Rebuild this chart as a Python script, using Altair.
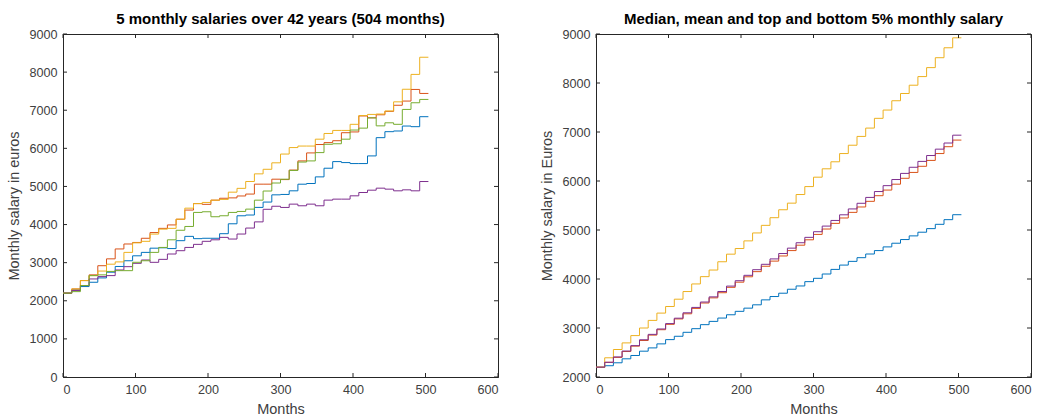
import altair as alt
import pandas as pd

# ---------------- data ----------------
months = [12 * k for k in range(42)] + [504]
x_ticks = [0, 100, 200, 300, 400, 500, 600]
left_y_ticks = [0, 1000, 2000, 3000, 4000, 5000, 6000, 7000, 8000, 9000]
right_y_ticks = [2000, 3000, 4000, 5000, 6000, 7000, 8000, 9000]

# left panel: 5 individual salaries, one value per year
left_blue = [2200, 2286, 2373, 2486, 2600, 2750, 2900, 3050, 3180, 3270, 3380, 3390, 3370, 3577,
             3690, 3630, 3640, 3640, 3760, 4020, 4230, 4250, 4450, 4590, 4780, 4790, 4885, 5059,
             5077, 5251, 5478, 5652, 5626, 5600, 5600, 5801, 6280, 6437, 6455, 6585, 6568, 6830]
left_red = [2200, 2310, 2530, 2680, 2920, 3100, 3360, 3490, 3530, 3640, 3790, 3900, 3990, 4140,
            4380, 4550, 4530, 4640, 4690, 4700, 4750, 4800, 5060, 5060, 5190, 5180, 5430, 5670,
            5880, 6100, 6150, 6200, 6410, 6430, 6850, 6800, 6880, 6970, 7130, 7240, 7545, 7440]
left_yellow = [2200, 2310, 2530, 2660, 2780, 2960, 3020, 3270, 3520, 3560, 3750, 3880, 3900, 4140,
               4430, 4550, 4580, 4640, 4660, 4850, 4950, 5130, 5330, 5450, 5620, 5850, 6020, 6060,
               6060, 6240, 6390, 6470, 6470, 6630, 6860, 6890, 6900, 6980, 7220, 7550, 7940, 8390]
left_purple = [2200, 2268, 2400, 2573, 2634, 2660, 2808, 2895, 2983, 3070, 3009, 3087, 3227, 3314,
               3400, 3480, 3560, 3600, 3664, 3620, 3751, 3908, 4070, 4400, 4480, 4449, 4536, 4493,
               4536, 4493, 4641, 4667, 4667, 4754, 4841, 4902, 4955, 4929, 4885, 4911, 4885, 5129]
left_green = [2200, 2240, 2400, 2660, 2680, 2770, 2790, 2790, 3010, 3050, 3270, 3400, 3600, 3850,
              3950, 4318, 4336, 4205, 4231, 4318, 4344, 4405, 4640, 4880, 5090, 5190, 5420, 5640,
              5670, 5888, 6106, 6120, 6240, 6480, 6530, 6800, 6590, 6670, 6630, 7021, 7196, 7283]

# right panel: bottom 5 %, mean, top 5 %, median
right_blue = [2200, 2230, 2290, 2371, 2439, 2527, 2594, 2676, 2763, 2831, 2912, 2986, 3068, 3135,
              3203, 3270, 3340, 3405, 3473, 3574, 3642, 3710, 3791, 3858, 3946, 4014, 4102, 4196,
              4284, 4360, 4435, 4510, 4580, 4655, 4730, 4805, 4880, 4955, 5028, 5116, 5211, 5312]
right_red = [2200, 2300, 2400, 2520, 2630, 2745, 2855, 2965, 3075, 3185, 3290, 3400, 3510, 3615,
             3720, 3830, 3935, 4045, 4150, 4260, 4365, 4470, 4580, 4690, 4800, 4910, 5020, 5135,
             5245, 5360, 5470, 5585, 5700, 5815, 5935, 6055, 6175, 6300, 6420, 6560, 6700, 6835]
right_yellow = [2200, 2392, 2561, 2696, 2845, 3000, 3155, 3304, 3439, 3588, 3744, 3899, 4048, 4183,
                4352, 4507, 4622, 4778, 4940, 5095, 5251, 5413, 5548, 5724, 5886, 6078, 6249, 6392,
                6560, 6730, 6910, 7080, 7279, 7448, 7638, 7786, 7955, 8131, 8314, 8516, 8719, 8922]
right_purple = [2200, 2300, 2410, 2530, 2640, 2760, 2870, 2980, 3090, 3200, 3310, 3420, 3530, 3635,
                3745, 3855, 3965, 4075, 4190, 4300, 4410, 4520, 4630, 4740, 4850, 4965, 5080, 5195,
                5310, 5430, 5545, 5665, 5785, 5905, 6030, 6155, 6280, 6400, 6520, 6650, 6775, 6935]

BLUE, RED, YELLOW, PURPLE, GREEN = "#0072BD", "#D95319", "#EDB120", "#7E2F8E", "#77AC30"
AXC = "#262626"
FONT = "Liberation Sans"
W, H = 435, 343
TL = 4


def series_df(vals):
    return pd.DataFrame({"month": months, "salary": vals + [vals[-1]]})


def panel(series, colors, ydom, yticks, title, ytitle):
    common = dict(ticks=False, grid=False, labelFont=FONT, titleFont=FONT, labelFontSize=12.6,
                  titleFontSize=14.5, titleFontWeight="normal", labelColor="#404040",
                  titleColor="#404040", domainColor=AXC, format="d")
    xax = alt.Axis(values=x_ticks, title="Months", labelPadding=6, titlePadding=7, **common)
    yax = alt.Axis(values=yticks, title=ytitle, labelPadding=6, titlePadding=7, **common)
    xs = alt.Scale(domain=[0, 600], nice=False, zero=False)
    ys = alt.Scale(domain=ydom, nice=False, zero=False)
    layers = []
    for vals, c in zip(series, colors):
        layers.append(
            alt.Chart(series_df(vals)).mark_line(interpolate="step-after", strokeWidth=1,
                                                 color=c, clip=True).encode(
                x=alt.X("month:Q", scale=xs, axis=xax),
                y=alt.Y("salary:Q", scale=ys, axis=yax),
            )
        )
    xt = pd.DataFrame({"month": x_ticks})
    yt = pd.DataFrame({"salary": yticks})
    for y0, y1 in [(0, TL), (H, H - TL)]:
        layers.append(alt.Chart(xt).mark_rule(color=AXC, strokeWidth=1).encode(
            x=alt.X("month:Q", scale=xs, axis=xax), y=alt.value(y0), y2=alt.value(y1)))
    for x0, x1 in [(0, TL), (W, W - TL)]:
        layers.append(alt.Chart(yt).mark_rule(color=AXC, strokeWidth=1).encode(
            y=alt.Y("salary:Q", scale=ys, axis=yax), x=alt.value(x0), x2=alt.value(x1)))
    return alt.layer(*layers).properties(
        width=W, height=H,
        title=alt.TitleParams(title, fontSize=15, fontWeight="bold", font=FONT,
                              color="#000000", offset=1),
    )


left = panel([left_blue, left_red, left_yellow, left_purple, left_green],
             [BLUE, RED, YELLOW, PURPLE, GREEN], [0, 9000], left_y_ticks,
             "5 monthly salaries over 42 years (504 months)", "Monthly salary in euros")
right = panel([right_blue, right_red, right_yellow, right_purple],
              [BLUE, RED, YELLOW, PURPLE], [2000, 9000], right_y_ticks,
              "Median, mean and top and bottom 5% monthly salary", "Monthly salary in Euros")

chart = alt.hconcat(left, right, spacing=40).properties(
    padding={"left": 6, "top": 11, "right": 2, "bottom": 0}, background="white"
).configure_view(stroke=AXC, strokeWidth=1)

chart.save("out.html", embed_options={"renderer": "svg", "actions": False})
